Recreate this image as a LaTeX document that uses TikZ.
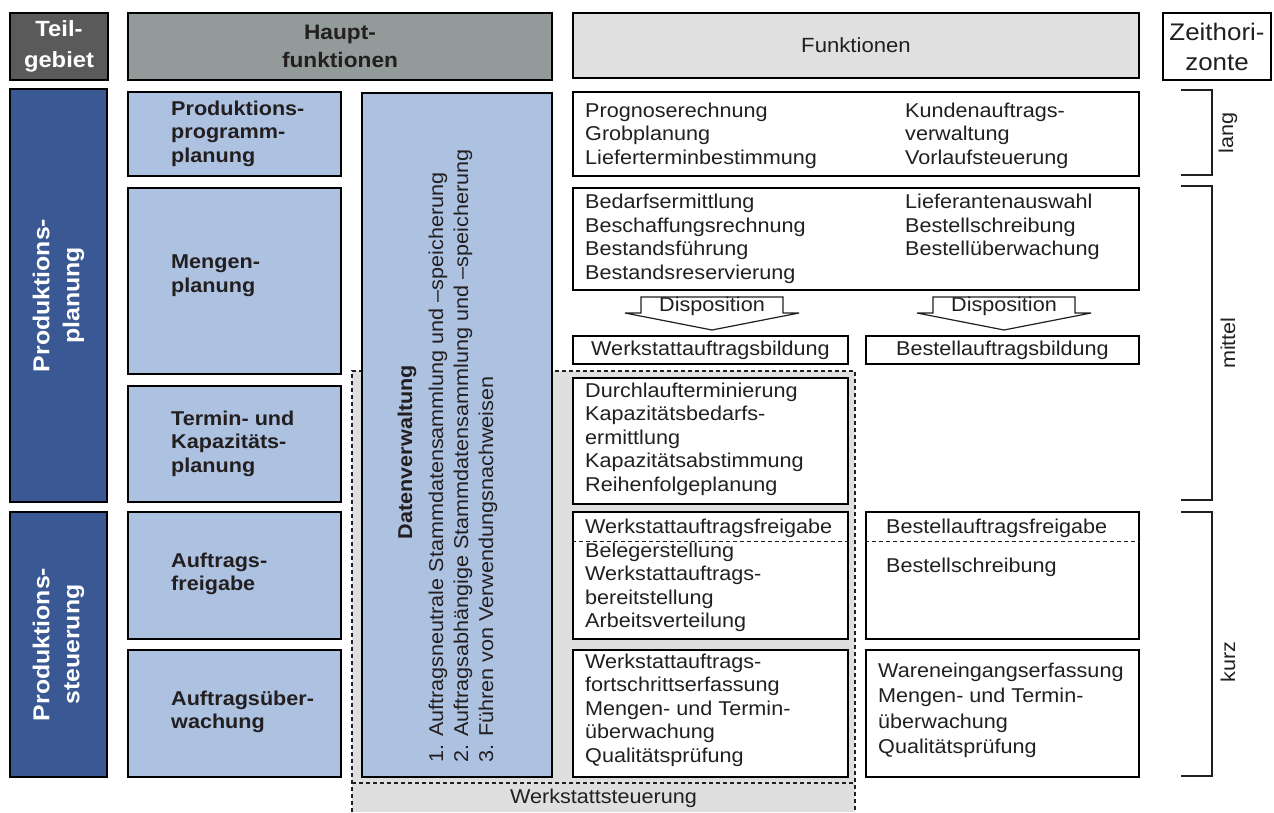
\documentclass[tikz,border=0pt]{standalone}
\usepackage{fontspec}
\setmainfont{Liberation Sans}[FakeStretch=1.08]
\usetikzlibrary{fit}

\definecolor{ink}{HTML}{231F20}
\definecolor{hdrdark}{HTML}{5A5A5A}
\definecolor{hdrmid}{HTML}{929B99}
\definecolor{hdrlight}{HTML}{E0E0E0}
\definecolor{navy}{HTML}{3A5894}
\definecolor{lblue}{HTML}{ADC1E1}
\definecolor{shade}{HTML}{DFDFDF}

\newcommand\fsreg{\fontsize{20}{23.5}\selectfont}
\newcommand\fswide{\fontsize{20}{25.5}\selectfont}
\newcommand\fsbold{\fontsize{20}{23.5}\selectfont\bfseries}
\newcommand\fsdv{\fontsize{20}{25}\selectfont}
\newcommand\fshdr{\fontsize{22}{31}\selectfont\bfseries}
\newcommand\fshaupt{\fontsize{21}{28}\selectfont\bfseries}
\newcommand\fstg{\fontsize{23}{30}\selectfont\bfseries}
\newcommand\fszeit{\fontsize{24}{30}\selectfont}

\begin{document}
\begin{tikzpicture}[x=1pt,y=-1pt,
  box/.style={draw=black, line width=2.3pt, inner sep=0pt, fit={#1}},
  txt/.style={inner sep=0pt, align=left, anchor=north west, text=ink, font=\fsreg},
  btxt/.style={txt, font=\fsbold},
  ctxt/.style={inner sep=0pt, text=ink, font=\fsreg},
  dashsep/.style={draw=ink, line width=1.2pt, dash pattern=on 4pt off 3pt},
  bracket/.style={draw=ink, line width=1.3pt},
  disp/.style={draw=ink, line width=1.2pt, fill=white, line join=miter}]
\useasboundingbox (0,0) rectangle (1274,812);

% workshop-control area (dashed, grey)
\node[box={(352,371) (855,812)}, draw=none, fill=shade] (ws) {};
\draw[dashsep] (352,812) -- (352,371) -- (855,371) -- (855,812);
\draw[dashsep] (352,783) -- (855,783);
\node[ctxt] (wsLabel) at (603.5,798) {Werkstattsteuerung};

% column headers
\node[box={(10,13) (108,80)}, fill=hdrdark] (hTeil) {};
\node[inner sep=0pt, align=center, text=white, font=\fshdr] (hTeilT) at (hTeil.center) {Teil-\\gebiet};
\node[box={(128,13) (552,80)}, fill=hdrmid] (hHaupt) {};
\node[inner sep=0pt, align=center, text=ink, font=\fshaupt] (hHauptT) at (hHaupt.center) {Haupt-\\funktionen};
\node[box={(573,13) (1139,78)}, fill=hdrlight, line width=1.8pt] (hFunk) {};
\node[ctxt, font=\fontsize{20.5}{24}\selectfont] (hFunkT) at (hFunk.center) {Funktionen};
\node[box={(1163,13) (1271,80)}, fill=white] (hZeit) {};
\node[inner sep=0pt, align=center, text=ink, font=\fszeit] (hZeitT) at (hZeit.center) {Zeithori-\\zonte};

% sub-areas
\node[box={(10,89) (107,502)}, fill=navy] (tgPlan) {};
\node[rotate=90, inner sep=0pt, align=center, text=white, font=\fstg] (tgPlanT) at (tgPlan.center) {Produktions-\\planung};
\node[box={(10,512) (107,777)}, fill=navy] (tgSteu) {};
\node[rotate=90, inner sep=0pt, align=center, text=white, font=\fstg] (tgSteuT) at (tgSteu.center) {Produktions-\\steuerung};

% main functions
\node[box={(128,92) (341,176)}, fill=lblue] (hfProg) {};
\node[btxt] (hfProgT) at (171,100.6) {Produktions-\\programm-\\planung};
\node[box={(128,188) (341,374)}, fill=lblue] (hfMenge) {};
\node[btxt] (hfMengeT) at (171,254.6) {Mengen-\\planung};
\node[box={(128,386) (341,502)}, fill=lblue] (hfTermin) {};
\node[btxt] (hfTerminT) at (171,410.6) {Termin- und\\Kapazitäts-\\planung};
\node[box={(128,512) (341,639)}, fill=lblue] (hfFrei) {};
\node[btxt] (hfFreiT) at (171,552.6) {Auftrags-\\freigabe};
\node[box={(128,650) (341,777)}, fill=lblue] (hfUeb) {};
\node[btxt] (hfUebT) at (171,690.6) {Auftragsüber-\\wachung};

% data management column
\node[box={(362,93) (552,777)}, fill=lblue] (dv) {};
\node[rotate=90, inner sep=0pt, text=ink, font=\fsbold] (dvTitle) at (407,452) {Datenverwaltung};
\node[rotate=90, inner sep=0pt, align=left, anchor=west, text=ink, font=\fsdv] (dvList) at (463,763)
  {1. Auftragsneutrale Stammdatensammlung und –speicherung\\
   2. Auftragsabhängige Stammdatensammlung und –speicherung\\
   3. Führen von Verwendungsnachweisen};

% functions
\node[box={(573,92) (1139,176)}, fill=white] (fProg) {};
\node[txt] (fProgL) at (585,102.6) {Prognoserechnung\\Grobplanung\\Lieferterminbestimmung};
\node[txt] (fProgR) at (905,102.6) {Kundenauftrags-\\verwaltung\\Vorlaufsteuerung};

\node[box={(573,188) (1139,290)}, fill=white] (fMenge) {};
\node[txt] (fMengeL) at (585,194) {Bedarfsermittlung\\Beschaffungsrechnung\\Bestandsführung\\Bestandsreservierung};
\node[txt] (fMengeR) at (905,194) {Lieferantenauswahl\\Bestellschreibung\\Bestellüberwachung};

% disposition arrows
\draw[disp] (625,313) -- (641,313) -- (641,297) -- (783,297) -- (783,313) -- (799,313) -- (712,330) -- cycle;
\node[ctxt] (disp1) at (712,306) {Disposition};
\draw[disp] (917,313) -- (933,313) -- (933,297) -- (1075,297) -- (1075,313) -- (1091,313) -- (1004,330) -- cycle;
\node[ctxt] (disp2) at (1004,306) {Disposition};

\node[box={(573,336) (848,364)}, fill=white] (fWB) {};
\node[ctxt] (fWBT) at (fWB.center) {Werkstattauftragsbildung};
\node[box={(866,336) (1139,364)}, fill=white] (fBB) {};
\node[ctxt] (fBBT) at (fBB.center) {Bestellauftragsbildung};

\node[box={(573,378) (848,504)}, fill=white] (fTermin) {};
\node[txt] (fTerminT) at (585,382.6) {Durchlaufterminierung\\Kapazitätsbedarfs-\\ermittlung\\Kapazitätsabstimmung\\Reihenfolgeplanung};

\node[box={(573,512) (848,639)}, fill=white] (fWF) {};
\node[txt] (fWFH) at (585,518.6) {Werkstattauftragsfreigabe};
\draw[dashsep, line width=1pt] (fWF.west |- 0,541) -- (fWF.east |- 0,541);
\node[txt] (fWFT) at (585,542.6) {Belegerstellung\\Werkstattauftrags-\\bereitstellung\\Arbeitsverteilung};

\node[box={(866,512) (1139,639)}, fill=white] (fBF) {};
\node[txt] (fBFH) at (886,518.6) {Bestellauftragsfreigabe};
\draw[dashsep, line width=1pt] (fBF.west |- 0,541) -- (fBF.east |- 0,541);
\node[txt] (fBFT) at (886,557.6) {Bestellschreibung};

\node[box={(573,650) (848,777)}, fill=white] (fWU) {};
\node[txt] (fWUT) at (585,653.6) {Werkstattauftrags-\\fortschrittserfassung\\Mengen- und Termin-\\überwachung\\Qualitätsprüfung};

\node[box={(866,650) (1139,777)}, fill=white] (fBU) {};
\node[txt, font=\fswide] (fBUT) at (878,662.6) {Wareneingangserfassung\\Mengen- und Termin-\\überwachung\\Qualitätsprüfung};

% time horizons
\draw[bracket] (1181,90) -- (1212,90) -- (1212,175) -- (1181,175);
\node[ctxt, rotate=90] (zLang) at (1228,133) {lang};
\draw[bracket] (1181,186) -- (1212,186) -- (1212,500) -- (1181,500);
\node[ctxt, rotate=90] (zMittel) at (1228,343) {mittel};
\draw[bracket] (1181,512) -- (1212,512) -- (1212,776) -- (1181,776);
\node[ctxt, rotate=90] (zKurz) at (1228,662) {kurz};
\end{tikzpicture}
\end{document}
